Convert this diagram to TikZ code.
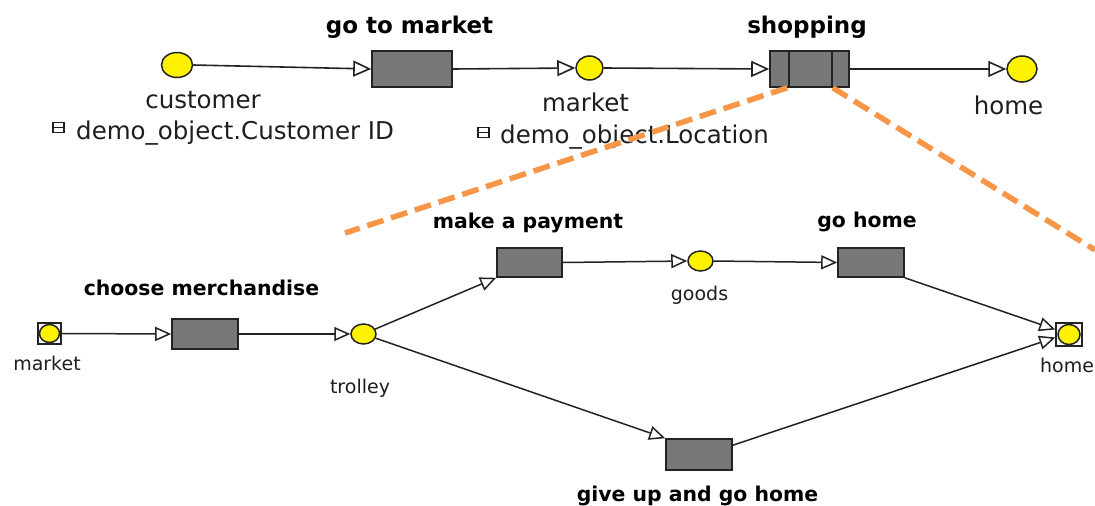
\documentclass[tikz,border=0pt]{standalone}
\usepackage{fontspec}
\setmainfont{DejaVu Sans}
\usetikzlibrary{arrows.meta,shapes.geometric}
\definecolor{boxgray}{RGB}{120,120,120}
\definecolor{edgegray}{RGB}{35,35,35}
\definecolor{zoomorange}{RGB}{247,150,70}
\definecolor{txtgray}{RGB}{30,30,30}
\begin{document}
\begin{tikzpicture}[x=1pt,y=-1pt,
  place/.style={ellipse,draw=edgegray,fill=yellow,line width=1.5pt,inner sep=0pt},
  trans/.style={rectangle,draw=edgegray,fill=boxgray,line width=1.6pt,inner sep=0pt},
  portsq/.style={rectangle,draw=edgegray,fill=white,line width=1.4pt,inner sep=0pt},
  flowA/.style={draw=edgegray,line width=1.6pt,-{Triangle[length=18pt,width=16pt,fill=white,line width=1.6pt]}},
  flowB/.style={draw=edgegray,line width=1.5pt,-{Triangle[length=16pt,width=14pt,fill=white,line width=1.5pt]}},
  plainline/.style={draw=edgegray,line width=1.6pt},
  titleA/.style={anchor=base,inner sep=0pt,font=\fontsize{23}{26}\selectfont\bfseries},
  titleB/.style={anchor=base,inner sep=0pt,font=\fontsize{20.4}{24}\selectfont\bfseries},
  labelA/.style={anchor=base,inner sep=0pt,text=txtgray,font=\fontsize{24.5}{28}\selectfont},
  labelB/.style={anchor=base,inner sep=0pt,text=txtgray,font=\fontsize{19}{22}\selectfont},
  iconbox/.style={rectangle,draw=txtgray,fill=white,line width=1.1pt,minimum width=11pt,minimum height=10pt,inner sep=0pt},
  zoomline/.style={draw=zoomorange,line width=5.5pt,dash pattern=on 17pt off 8pt}
]
\useasboundingbox (0,0) rectangle (1095,506);
\clip (0,0) rectangle (1095,506);
\fill[white] (0,0) rectangle (1095,506);

% ---------- top net ----------
\node[place,minimum width=31pt,minimum height=25pt] (cust) at (177,65) {};
\node[trans,minimum width=80pt,minimum height=36pt] (gtm) at (412,69) {};
\node[place,minimum width=27pt,minimum height=24pt] (mkt) at (589.5,68) {};
\node[trans,minimum width=79pt,minimum height=36pt] (shop) at (809.5,69) {};
\node[place,minimum width=30pt,minimum height=26pt] (home1) at (1022,69) {};

\draw[plainline] ([xshift=20pt]shop.north west) -- ([xshift=20pt]shop.south west);
\draw[plainline] ([xshift=-18pt]shop.north east) -- ([xshift=-18pt]shop.south east);

\draw[flowA] (cust.east) -- (gtm.west);
\draw[flowA] (gtm.east) -- (mkt.west);
\draw[flowA] (mkt.east) -- (shop.west);
\draw[flowA] (shop.east) -- (home1.west);

\node[titleA] (tgtm) at (409.5,34) {go to market};
\node[titleA] (tshop) at (807,34) {shopping};
\node[labelA] (lcust) at (203,108) {customer};
\node[labelA] (lmkt) at (585.5,111) {market};
\node[labelA] (lhome1) at (1008.5,114) {home};

\node[iconbox] (ic1) at (58.5,127.5) {};
\draw[draw=txtgray,line width=1.1pt] (ic1.west) -- (ic1.east);
\node[labelA,anchor=base west] (lcid) at (76,139) {demo\_object.Customer ID};
\node[iconbox] (ic2) at (483.5,132.5) {};
\draw[draw=txtgray,line width=1.1pt] (ic2.west) -- (ic2.east);
\node[labelA,anchor=base west] (lloc) at (500,143) {demo\_object.Location};

% ---------- bottom net ----------
\node[portsq,minimum width=23pt,minimum height=21pt] (mk2) at (49.5,333.5) {};
\node[place,minimum width=20pt,minimum height=18pt] (mk2c) at (49.5,333.5) {};
\node[trans,minimum width=66pt,minimum height=30pt] (ch) at (205,334) {};
\node[place,minimum width=25pt,minimum height=20pt] (trol) at (363.5,334) {};
\node[trans,minimum width=65pt,minimum height=29pt] (pay) at (529.5,262.5) {};
\node[place,minimum width=25pt,minimum height=20pt] (goods) at (700.5,261) {};
\node[trans,minimum width=66pt,minimum height=29pt] (gh) at (871,262.5) {};
\node[trans,minimum width=66pt,minimum height=31pt] (gu) at (699,454.5) {};
\node[portsq,minimum width=26pt,minimum height=23pt] (home2) at (1069,334.5) {};
\node[place,minimum width=22pt,minimum height=20pt] (home2c) at (1069,334.5) {};

\draw[flowB] (mk2.east) -- (ch.west);
\draw[flowB] (ch.east) -- (trol.west);
\draw[flowB] (trol) -- (pay.south west);
\draw[flowB] (pay.east) -- (goods.west);
\draw[flowB] (goods.east) -- (gh.west);
\draw[flowB] (gh.south east) -- ([yshift=5pt]home2.west);
\draw[flowB] (trol) -- (gu.north west);
\draw[flowB] ([yshift=-7pt]gu.north east) -- ([yshift=-3pt]home2.west);

\node[titleB] (tch) at (201.5,295) {choose merchandise};
\node[titleB] (tpay) at (528,228) {make a payment};
\node[titleB] (tgh) at (867,227) {go home};
\node[titleB] (tgu) at (697.5,501) {give up and go home};
\node[labelB] (lmk2) at (47,370) {market};
\node[labelB] (ltrol) at (360,393) {trolley};
\node[labelB] (lgoods) at (699.5,300) {goods};
\node[labelB] (lhome2) at (1067,372) {home};

% ---------- zoom lines ----------
\coordinate (o1) at (345,233);
\coordinate (o2) at (1095,250);
\draw[zoomline] ([xshift=18pt]shop.south west) -- (o1);
\draw[zoomline] ([xshift=-17pt]shop.south east) -- (o2);
\end{tikzpicture}
\end{document}
